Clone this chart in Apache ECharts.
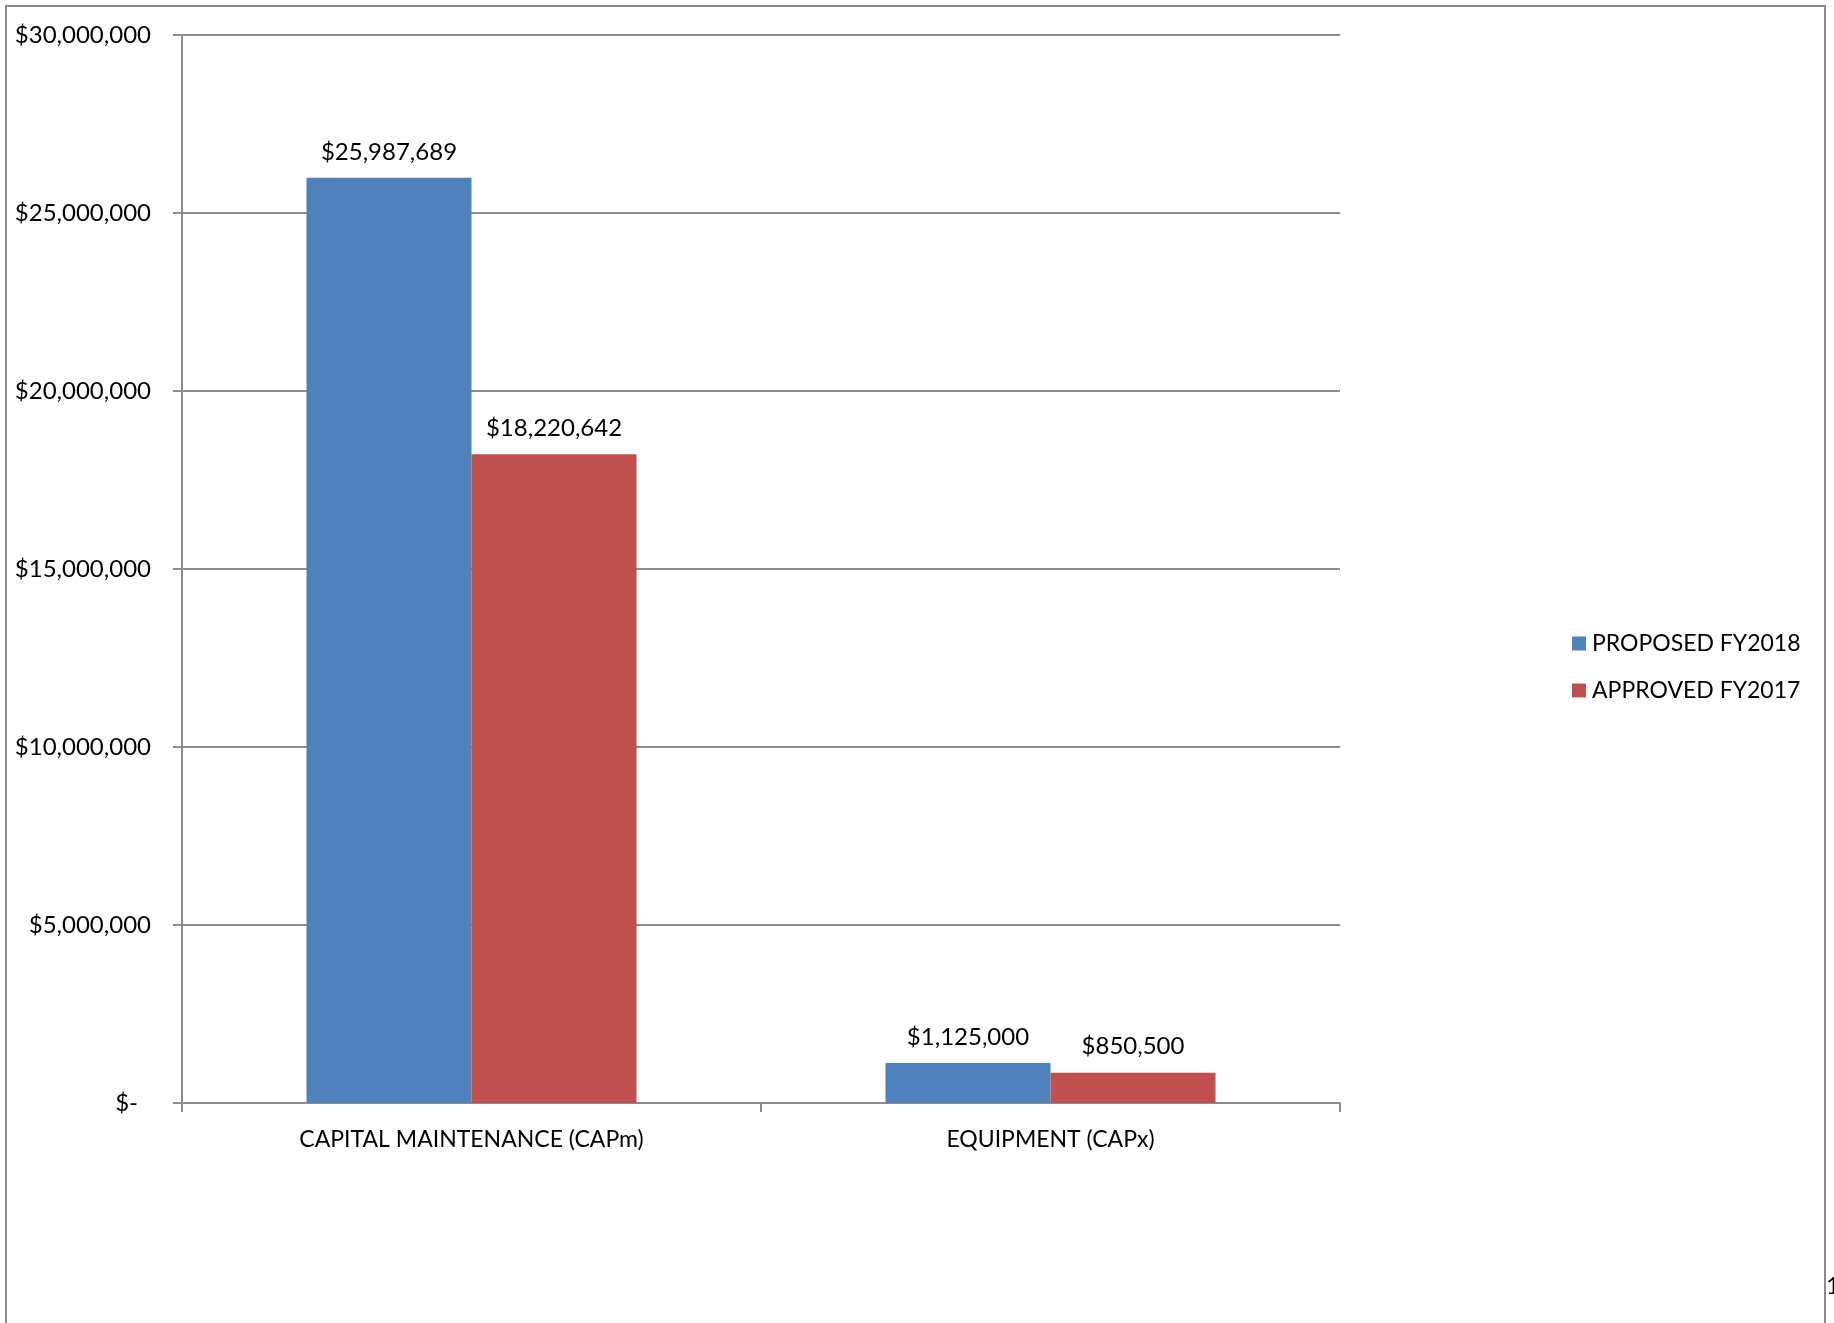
<!DOCTYPE html>
<html>
<head>
<meta charset="utf-8">
<title>Capital budget</title>
<script src="https://cdn.jsdelivr.net/npm/echarts@6/dist/echarts.min.js"></script>
<style>
  html, body { margin: 0; padding: 0; background: #ffffff; }
  #chart { width: 1834px; height: 1323px; }
</style>
</head>
<body>
<div id="chart"></div>
<script>
// Budget categories and the two fiscal-year series
const categories = ['CAPITAL MAINTENANCE (CAPm)', 'EQUIPMENT (CAPx)'];
const seriesNames = ['PROPOSED FY2018', 'APPROVED FY2017'];
const proposedFY2018 = [25987689, 1125000];
const approvedFY2017 = [18220642, 850500];
const yTicks = { min: 0, max: 30000000, interval: 5000000 };

const FONT = 'Lato, "Open Sans", sans-serif';
const FS = 24;      // numeric labels
const FS_CAPS = 23; // category names and legend
const BLUE = '#4F81BD';
const RED = '#C0504D';
const GRID = '#8c8c8c';

function money(v) {
  return '$' + Number(v).toLocaleString('en-US');
}

const chart = echarts.init(document.getElementById('chart'), null, { renderer: 'canvas' });

const valueLabel = {
  show: true,
  position: 'top',
  distance: 14,
  fontFamily: FONT,
  fontSize: FS,
  color: '#000',
  formatter: function (p) { return money(p.value); }
};

chart.setOption({
  animation: false,
  backgroundColor: '#ffffff',
  textStyle: { fontFamily: FONT, color: '#000' },
  grid: { left: 182, right: 494, top: 35, bottom: 220, containLabel: false },
  legend: {
    orient: 'vertical',
    left: 1567,
    top: 627,
    itemWidth: 14,
    itemHeight: 14,
    itemGap: 24,
    icon: 'rect',
    textStyle: { fontFamily: FONT, fontSize: FS_CAPS, color: '#000', padding: [0, 0, 0, 1] },
    data: seriesNames
  },
  xAxis: {
    type: 'category',
    data: categories,
    boundaryGap: true,
    axisLine: { lineStyle: { color: GRID, width: 2 } },
    axisTick: { show: true, length: 9, alignWithLabel: false, lineStyle: { color: GRID, width: 2 } },
    axisLabel: { fontFamily: FONT, fontSize: FS_CAPS, color: '#000', margin: 25 }
  },
  yAxis: {
    type: 'value',
    min: yTicks.min,
    max: yTicks.max,
    interval: yTicks.interval,
    axisLine: { show: true, lineStyle: { color: GRID, width: 2 } },
    axisTick: { show: true, length: 9, lineStyle: { color: GRID, width: 2 } },
    splitLine: { show: true, lineStyle: { color: GRID, width: 2 } },
    axisLabel: {
      fontFamily: FONT,
      fontSize: FS,
      color: '#000',
      margin: 31,
      formatter: function (v) {
        return v === 0 ? '{z|$-}' : money(v);
      },
      rich: { z: { fontFamily: FONT, fontSize: FS, color: '#000', padding: [0, 13, 0, 0] } }
    }
  },
  series: [
    {
      name: seriesNames[0],
      type: 'bar',
      data: proposedFY2018,
      barGap: '0%',
      barCategoryGap: '43%',
      itemStyle: { color: BLUE },
      label: valueLabel
    },
    {
      name: seriesNames[1],
      type: 'bar',
      data: approvedFY2017,
      barGap: '0%',
      barCategoryGap: '43%',
      itemStyle: { color: RED },
      label: valueLabel
    }
  ],
  graphic: [
    {
      type: 'rect',
      shape: { x: 6, y: 6, width: 1819, height: 1330 },
      style: { fill: 'none', stroke: '#8c8c8c', lineWidth: 2 },
      silent: true
    },
    {
      type: 'text',
      left: 1826,
      top: 1274,
      style: { text: '1', font: '24px ' + FONT, fill: '#000' },
      silent: true
    }
  ]
});
</script>
</body>
</html>
